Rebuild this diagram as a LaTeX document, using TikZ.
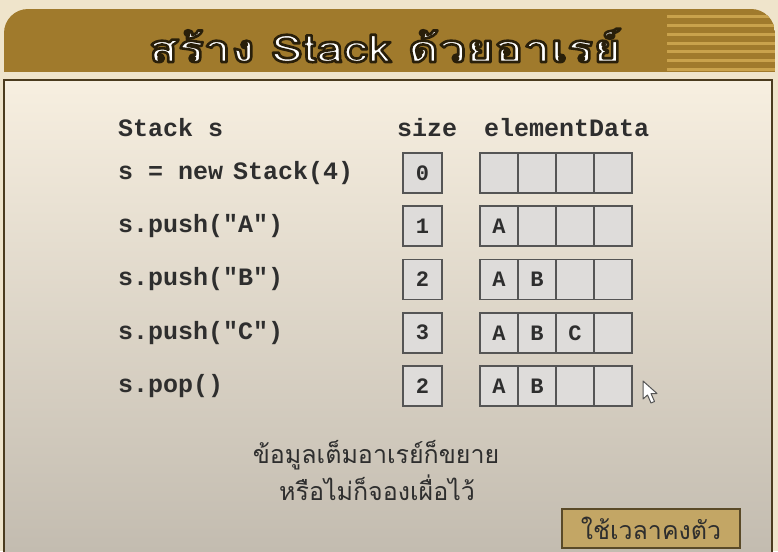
\documentclass[tikz,border=0pt]{standalone}
\usepackage{fontspec}
\newfontfamily\codefont{Liberation Mono}
\newfontfamily\thaifont[Script=Thai]{Loma}
\newfontfamily\thaititle[Script=Thai, FakeStretch=1.27]{Loma}
\newcommand{\outlinetext}[1]{\special{pdf:literal direct q 2 Tr 2.6 w 1 j 0.16 0.12 0.04 RG}#1\special{pdf:literal direct Q}}
\definecolor{outerbg}{HTML}{EFE4CB}
\definecolor{hdr}{HTML}{A07A2C}
\definecolor{hdrstripe}{HTML}{C9A24C}
\definecolor{panelTop}{HTML}{F7EFE0}
\definecolor{panelMid}{HTML}{EAE4D8}
\definecolor{panelBot}{HTML}{C2BBAF}
\definecolor{panelEdge}{HTML}{4B3B1E}
\definecolor{cellFill}{HTML}{DEDCDA}
\definecolor{cellEdge}{HTML}{555555}
\definecolor{txtDark}{HTML}{2E2E2E}
\definecolor{btnFill}{HTML}{C3A665}
\definecolor{btnEdge}{HTML}{5A4A28}
\tikzset{
  codetxt/.style={font=\codefont\bfseries\fontsize{25}{25}\selectfont, text=txtDark, inner sep=0pt, anchor=west},
  sizebox/.style={draw=cellEdge, fill=cellFill, line width=1.6pt, minimum width=39pt, minimum height=40pt, inner sep=0pt,
    font=\codefont\bfseries\fontsize{22}{22}\selectfont, text=txtDark},
  cellbox/.style={draw=cellEdge, fill=cellFill, line width=1.6pt, minimum width=38pt, minimum height=40pt, inner sep=0pt,
    font=\codefont\bfseries\fontsize{22}{22}\selectfont, text=txtDark},
  titletxt/.style={font=\thaititle\bfseries\fontsize{38}{38}\selectfont, inner sep=0pt, anchor=base, text=white},
  thaitxt/.style={font=\thaifont\fontsize{25}{25}\selectfont, text=txtDark, inner sep=0pt},
  btn/.style={draw=btnEdge, fill=btnFill, line width=1.6pt, minimum width=178pt, minimum height=39pt, inner sep=0pt,
    font=\thaifont\fontsize{25}{25}\selectfont, text=txtDark}
}
\begin{document}
\begin{tikzpicture}[x=1pt,y=-1pt]
\useasboundingbox (0,0) rectangle (778,551);
\fill[outerbg] (0,0) rectangle (778,551);
% header band
\begin{scope}
  \clip[rounded corners=24pt] (4,9) rectangle (775,110);
  \fill[hdr] (4,9) rectangle (775,72);
  \foreach \k in {0,...,6}{
    \fill[hdrstripe] (667,{15.5+8.7*\k}) rectangle (775,{18.5+8.7*\k});
  }
\end{scope}
% title (white letters with dark outline)
\node[titletxt] (title) at (385,62) {\outlinetext{สร้าง Stack ด้วยอาเรย์}};
% panel
\shade[top color=panelTop, middle color=panelMid, bottom color=panelBot] (4,80) rectangle (772,560);
\draw[panelEdge, line width=2pt] (4,560) -- (4,80) -- (772,80) -- (772,560);
% column headings
\node[codetxt] (hstack) at (118,128) {Stack s};
\node[codetxt] (hsize) at (397,128) {size};
\node[codetxt] (hdata) at (484,128) {elementData};
% rows
\foreach \r/\lab/\sz/\ca/\cb/\cc in {
  1/{s = new\kern-5pt{} Stack(4)}/0/{}/{}/{},
  2/{s.push("A")}/1/A/{}/{},
  3/{s.push("B")}/2/A/B/{},
  4/{s.push("C")}/3/A/B/C,
  5/{s.pop()}/2/A/B/{}}{
  \pgfmathsetmacro{\yy}{173+53.25*(\r-1)}
  \node[codetxt] (lbl\r) at (118,\yy) {\lab};
  \node[sizebox] (sz\r) at (422.5,\yy) {\sz};
  \node[cellbox] (cell\r a) at (499,\yy) {\ca};
  \node[cellbox] (cell\r b) at (537,\yy) {\cb};
  \node[cellbox] (cell\r c) at (575,\yy) {\cc};
  \node[cellbox] (cell\r d) at (613,\yy) {};
}
% note
\node[thaitxt] (note1) at (376,455) {ข้อมูลเต็มอาเรย์ก็ขยาย};
\node[thaitxt] (note2) at (377,488) {หรือไม่ก็จองเผื่อไว้};
% button
\node[btn] (button) at (651,528.5) {ใช้เวลาคงตัว};
% mouse cursor
\draw[fill=white, draw=cellEdge, line width=1pt, line join=round]
  (643,381) -- (643,399) -- (647.5,395) -- (651,403) -- (654.5,401.5) -- (651,393.5) -- (657,393.5) -- cycle;
\end{tikzpicture}
\end{document}
